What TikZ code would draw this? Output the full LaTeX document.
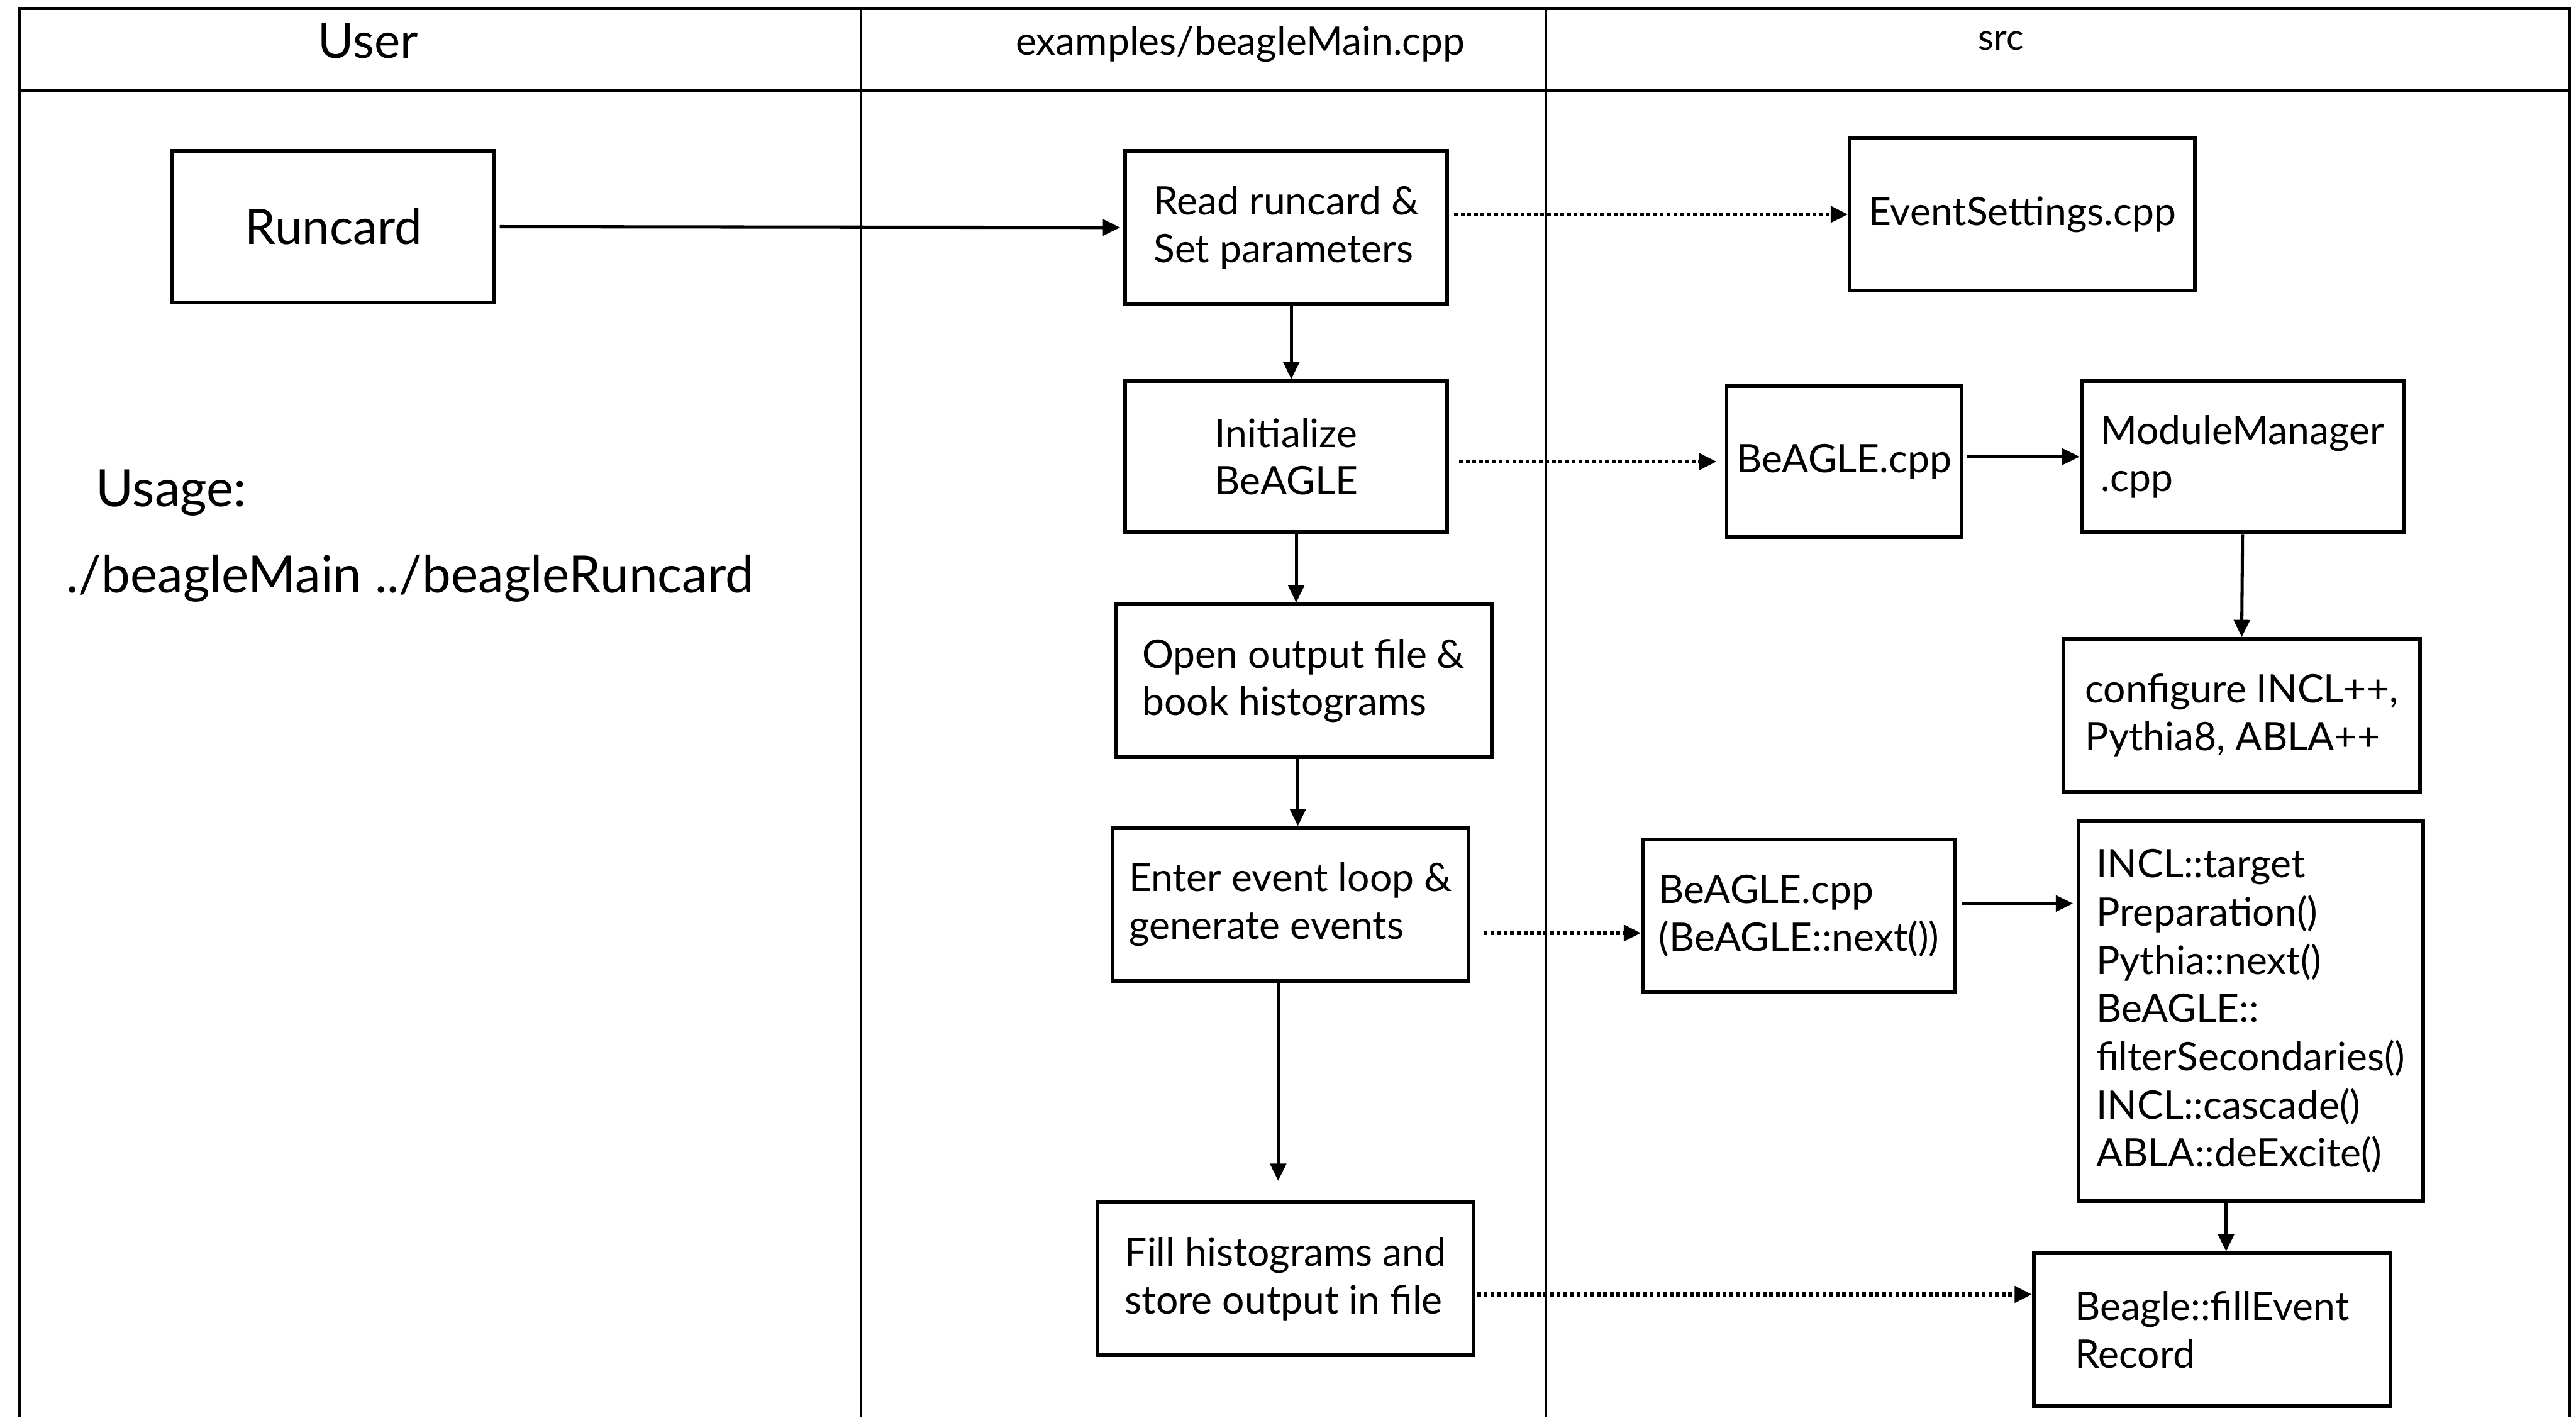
\documentclass[tikz,border=0pt]{standalone}
\usepackage{fontspec}
\setmainfont{Lato}
\usetikzlibrary{arrows.meta}
\def\px{0.02cm}

\tikzset{
  box/.style={draw, line width=1.3pt, align=left, inner sep=0pt, font=\fontsize{13.6}{16.5}\selectfont},
  sz/.style 2 args={minimum width=#1*\px, minimum height=#2*\px},
  arr/.style={line width=1.1pt, -{Triangle[length=6pt,width=5.5pt]}},
  dotarr/.style={arr, line width=1.4pt, dash pattern=on 1.3pt off 1pt},
}

\begin{document}
\begin{tikzpicture}[x=0.02cm, y=-0.02cm]
			%%%%% LANES %%%%%
			\useasboundingbox (0,0) rectangle (1568,863);
			
			\draw[line width=1.1pt] (12,863) -- (12,5) -- (1564,5) -- (1564,863);
			\draw[line width=1.1pt] (12,55) -- (1564,55);
			\draw[line width=0.8pt] (524,5) -- (524,863);
			\draw[line width=0.8pt] (941,5) -- (941,863);
			
			\node[font=\fontsize{17}{20}\selectfont] (userhd) at (224,25) {User};
			\node[font=\fontsize{13.6}{15}\selectfont] (mainhd) at (755,27) {examples/beagleMain.cpp};
			\node[font=\fontsize{12.5}{15}\selectfont] (srchd) at (1218,25) {src};
			
			%%%%% USER %%%%%
			\node[box, font=\fontsize{17}{20}\selectfont, sz={196}{92}] (runcard) at (203,138) {Runcard};
			\node[anchor=west, inner sep=0pt, font=\fontsize{17.8}{20}\selectfont] (usage) at (58,300) {Usage:};
			\node[anchor=west, inner sep=0pt, font=\fontsize{17.8}{20}\selectfont] (cmdline) at (40,352) {./beagleMain ../beagleRuncard};
			
			%%%%% MAIN %%%%%
			\node[box, sz={196}{93}] (readcard) at (783,138.5) {Read runcard \&\\Set parameters};
			\node[box, sz={196}{92}] (init) at (783,278) {Initialize\\BeAGLE};
			\node[box, sz={229}{93}] (openout) at (793.5,414.5) {Open output file \&\\book histograms};
			\node[box, sz={217}{93}] (evloop) at (785.5,550.5) {Enter event loop \&\\generate events};
			\node[box, sz={229}{93}] (fillhist) at (782.5,778.5) {Fill histograms and\\store output in file};
			
			%%%%% SRC %%%%%
			\node[box, sz={210}{93}] (evset) at (1231,130.5) {EventSettings.cpp};
			\node[box, sz={143}{92}] (beaglecpp) at (1122.5,281) {BeAGLE.cpp};
			\node[box, sz={196}{92}] (modman) at (1365,278) {ModuleManager\\.cpp};
			\node[box, sz={217}{93}] (config) at (1364.5,435.5) {configure INCL++,\\Pythia8, ABLA++};
			\node[box, sz={190}{93}] (beaglenext) at (1095,557.5) {BeAGLE.cpp\\(BeAGLE::next())};
			\node[box, sz={210}{231}, font=\fontsize{13.6}{16.7}\selectfont] (modules) at (1370,615.5) {INCL::target\\Preparation()\\Pythia::next()\\BeAGLE::\\filterSecondaries()\\INCL::cascade()\\ABLA::deExcite()};
			\node[box, sz={217}{93}] (fillevent) at (1346.5,809.5) {Beagle::fillEvent\\Record};
			
			%%%%% CALLS %%%%%
			\draw[arr, shorten <=0.04cm, shorten >=0.04cm] (runcard.east) -- (readcard.west);
			\draw[dotarr, shorten <=0.06cm] (readcard.east |- evset) -- (evset.west);
			\draw[arr] ([xshift=0.06cm]readcard.south) -- ([xshift=0.06cm]readcard.south |- init.north);
			\draw[dotarr, shorten <=0.12cm, shorten >=0.1cm] (init.east |- beaglecpp) -- (beaglecpp.west);
			\draw[arr, shorten <=0.04cm] (beaglecpp.east |- modman) -- (modman.west);
			\draw[arr] (modman.south) -- (config.north);
			\draw[arr] ([xshift=0.12cm]init.south) -- ([xshift=0.12cm]init.south |- openout.north);
			\draw[arr] ([xshift=-0.07cm]openout.south) -- ([xshift=-0.07cm]openout.south |- evloop.north);
			\draw[dotarr, shorten <=0.16cm] ([yshift=-0.35cm]evloop.east) -- ([yshift=-0.35cm]evloop.east -| beaglenext.west);
			\draw[arr, shorten <=0.06cm, shorten >=0.04cm] ([yshift=0.15cm]beaglenext.east) -- ([yshift=0.15cm]beaglenext.east -| modules.west);
			\draw[arr, shorten >=0.24cm] ([xshift=-0.15cm]evloop.south) -- ([xshift=-0.15cm]evloop.south |- fillhist.north);
			\draw[arr] ([xshift=-0.3cm]modules.south) -- ([xshift=-0.3cm]modules.south |- fillevent.north);
			\draw[dotarr, shorten <=0.02cm] ([yshift=-0.19cm]fillhist.east) -- ([yshift=-0.19cm]fillhist.east -| fillevent.west);
			
\end{tikzpicture}
\end{document}
